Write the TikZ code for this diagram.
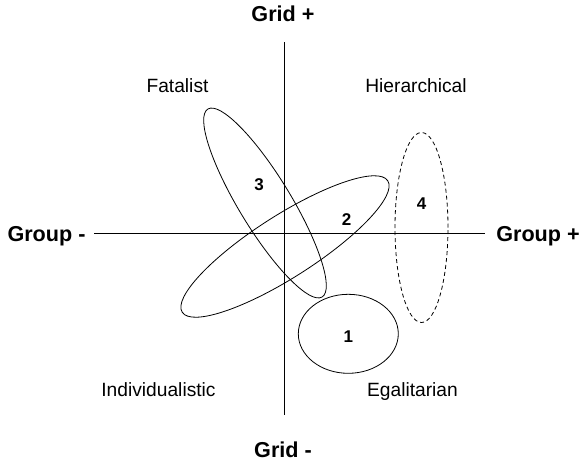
\documentclass[tikz,border=0pt]{standalone}
\usepackage{fontspec}
\setmainfont{Liberation Sans}
\begin{document}
\begin{tikzpicture}[x=1pt,y=-1pt,
  axis/.style={line width=0.9pt},
  blob/.style={line width=0.8pt},
  axlabel/.style={font=\fontsize{21.6}{24}\selectfont\bfseries, anchor=base, inner sep=0pt},
  quadlabel/.style={font=\fontsize{19.2}{22}\selectfont, anchor=base, inner sep=0pt},
  numlabel/.style={font=\fontsize{17}{20}\selectfont\bfseries, anchor=base, inner sep=0pt}]
\useasboundingbox (0,0) rectangle (581,463);
% axes
\coordinate (top) at (284,42);
\coordinate (bot) at (284,415);
\coordinate (lft) at (94,233);
\coordinate (rgt) at (485,233);
\draw[axis] (top) -- (bot);
\draw[axis] (lft) -- (rgt);
% axis labels
\node[axlabel] (gridp) at (283,21) {Grid +};
\node[axlabel] (gridm) at (283,457) {Grid -};
\node[axlabel] (groupm) at (46.5,241) {Group -};
\node[axlabel] (groupp) at (538,241) {Group +};
% quadrant labels
\node[quadlabel] (fat) at (177.5,92) {Fatalist};
\node[quadlabel] (hier) at (416,92) {Hierarchical};
\node[quadlabel] (ind) at (158.5,396) {Individualistic};
\node[quadlabel] (ega) at (412.5,396) {Egalitarian};
% ellipses
\draw[blob, rotate around={-58.7:(265,203)}] (265,203) ellipse [x radius=110pt, y radius=26pt];
\draw[blob, rotate around={32.6:(285,246.5)}] (285,246.5) ellipse [x radius=122pt, y radius=31pt];
\draw[blob, dash pattern=on 4pt off 3pt] (421.5,227.5) ellipse [x radius=26.5pt, y radius=95pt];
\draw[blob] (348.3,333.8) ellipse [x radius=50pt, y radius=39.5pt];
% numbers
\node[numlabel] (n3) at (259,190.5) {3};
\node[numlabel] (n2) at (346.5,225) {2};
\node[numlabel] (n4) at (421.5,209) {4};
\node[numlabel] (n1) at (348.3,342) {1};
\end{tikzpicture}
\end{document}
